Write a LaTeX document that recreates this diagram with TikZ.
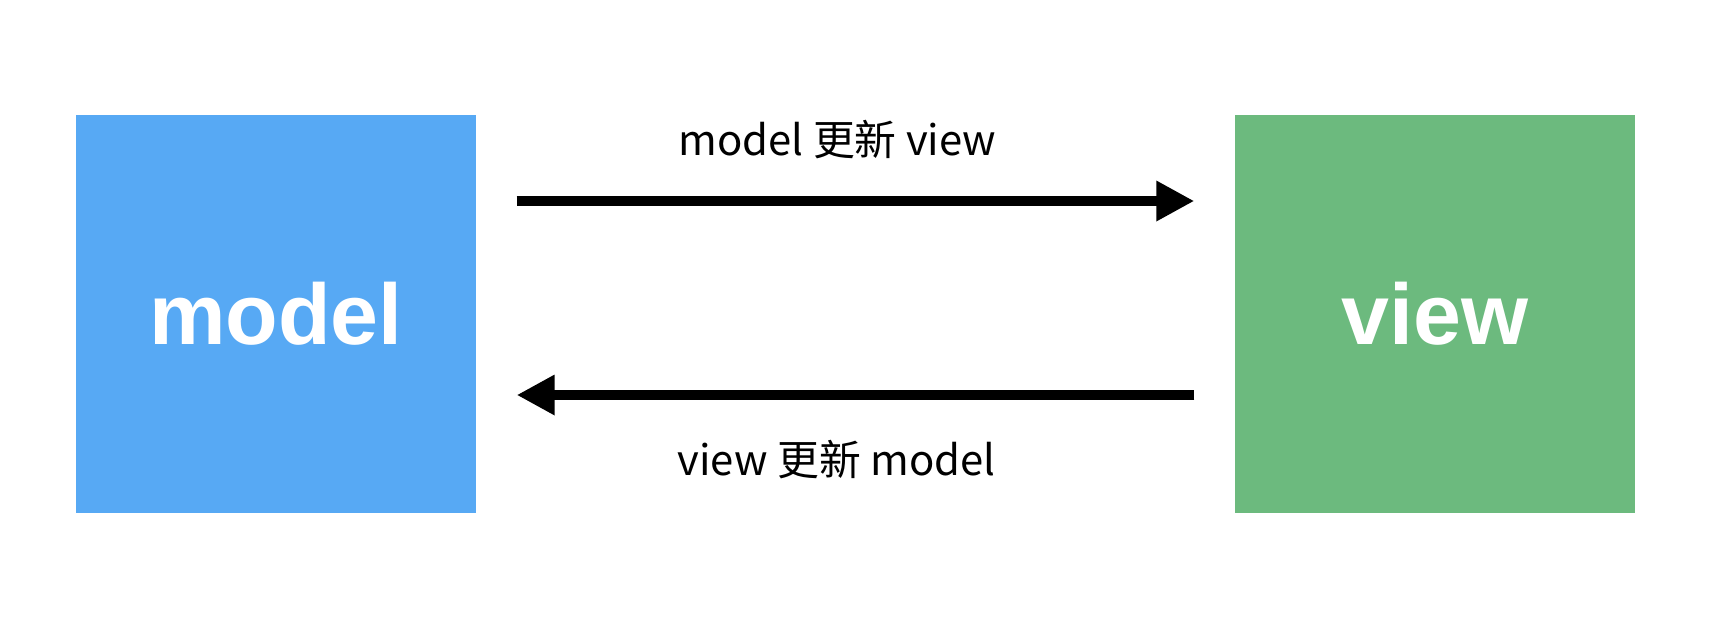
\documentclass[tikz,border=0pt]{standalone}
\usepackage{fontspec}
\setmainfont{Liberation Sans}
\newfontfamily\cjk{Noto Sans CJK SC}
\usetikzlibrary{arrows.meta,positioning}
\definecolor{modelblue}{RGB}{87,169,244}
\definecolor{viewgreen}{RGB}{108,186,126}
\begin{document}
\begin{tikzpicture}[line join=round, >={Triangle[length=0.38cm,width=0.38cm]}]
	\tikzset{box/.style={minimum width=4cm, minimum height=3.98cm, inner sep=0pt, text=white, font=\fontsize{24.5}{28}\selectfont\bfseries},
		lab/.style={anchor=base, inner sep=0pt, font=\cjk\fontsize{11.9}{14}\selectfont},
		conn/.style={->, line width=3.1pt}}
	\useasboundingbox (0,0) rectangle (17.17,-6.29);
	%Hai khối
	\node[box, fill=modelblue] (model) at (2.76,-3.14) {model};
	\node[box, fill=viewgreen] (view) at (14.35,-3.14) {view};
	%Mũi tên
	\draw[conn] ([xshift=0.4cm,yshift=1.13cm]model.east) -- ([xshift=-0.4cm,yshift=1.13cm]view.west);
	\draw[conn] ([xshift=-0.4cm,yshift=-0.81cm]view.west) -- ([xshift=0.4cm,yshift=-0.81cm]model.east);
	\node[lab] (m2v) at (8.375,-1.55) {model 更新 view};
	\node[lab] (v2m) at (8.365,-4.75) {view 更新 model};
\end{tikzpicture}
\end{document}
